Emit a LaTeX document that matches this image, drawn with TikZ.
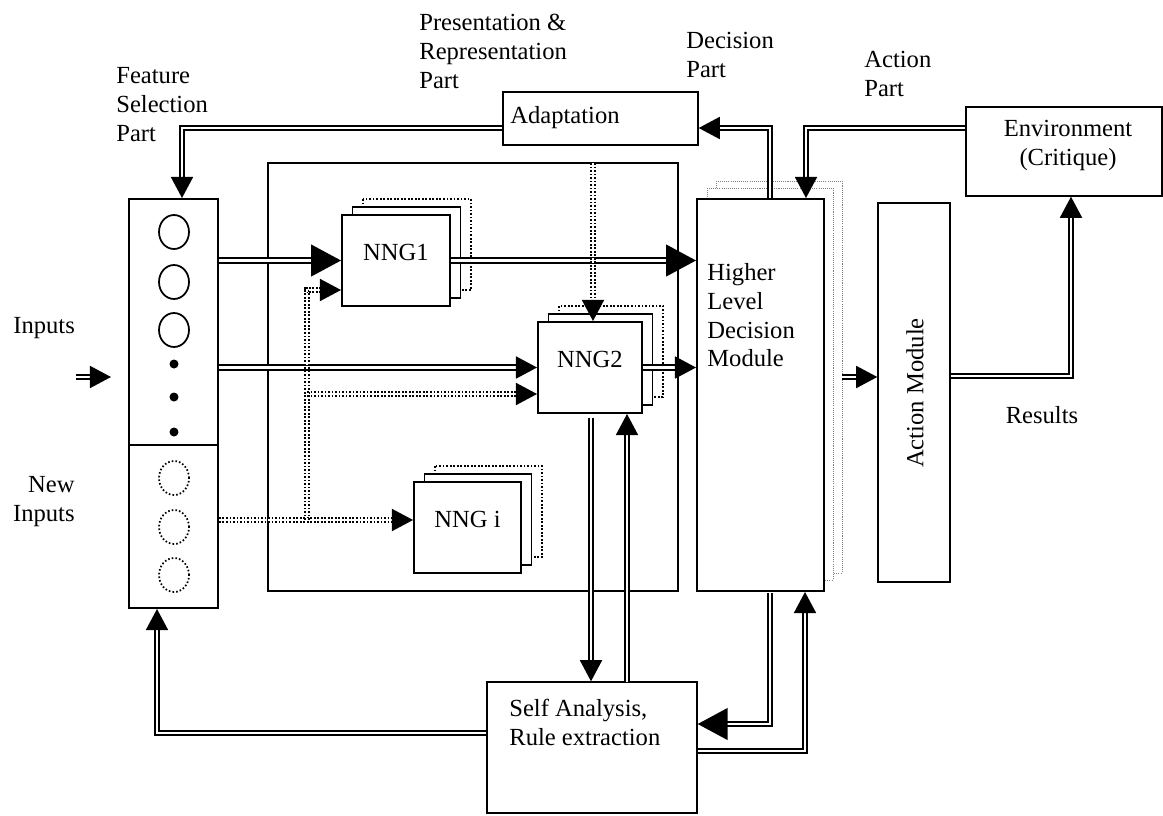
\documentclass[tikz,border=0pt]{standalone}
\usepackage{fontspec}
\setmainfont{Liberation Serif}
\usetikzlibrary{arrows.meta,fit,calc}
\begin{document}
\begin{tikzpicture}[x=0.02cm,y=-0.02cm,
  every node/.style={font=\fontsize{14}{16.4}\selectfont},
  box/.style={draw,line width=1.1pt,inner sep=0pt,fill=white},
  tbox/.style={draw,line width=0.8pt,inner sep=0pt,fill=white},
  dotbox/.style={draw,line width=1.1pt,dash pattern=on 1pt off 1pt,fill=white},
  shadowbox/.style={draw=gray,line width=0.45pt,dash pattern=on 0.6pt off 0.6pt,fill=white},
  lbl/.style={inner sep=0pt,align=left},
  dl/.style={double,double distance=1.5pt,line width=1.1pt},
  dd/.style={double,double distance=1.5pt,line width=1.1pt,dash pattern=on 1pt off 1pt},
  bigtip/.style={-{Triangle[length=17pt,width=18pt]}},
  midtip/.style={-{Triangle[length=12pt,width=12.5pt]}},
]
\useasboundingbox (0,0) rectangle (1163,815);

% inner presentation box
\draw[line width=1.1pt] (268,163) rectangle (678,591);

% feature selection box
\node[box,fit={(129,199) (218,608)}] (fs) {};
\draw[line width=1pt] (129,445) -- (218,445);
\foreach \y in {232,282,330}
  \draw[line width=1pt] (174,\y) ellipse [x radius=0.3cm, y radius=0.34cm];
\foreach \y in {364,397,432}
  \fill (174,\y) circle [radius=0.09cm];
\foreach \y in {478,527,575}
  \draw[line width=1pt,dash pattern=on 0.9pt off 1.2pt] (174,\y) ellipse [x radius=0.3cm, y radius=0.34cm];

% NNG stacks
\draw[dotbox] (363,199) rectangle (471,290);
\draw[box] (352.5,207) rectangle (460.5,298);
\node[box,fit={(342,215) (450,306)}] (nng1) {NNG1};

\draw[dotbox] (559,306) rectangle (663,397);
\draw[box] (548.5,314) rectangle (652.5,405);
\node[box,fit={(538,322) (642,413)}] (nng2) {NNG2};

\draw[dotbox] (435,466) rectangle (542,557);
\draw[box] (424.5,474) rectangle (531.5,565);
\node[box,fit={(414,482) (521,573)}] (nngi) {NNG i};

% higher level decision module
\draw[shadowbox] (716,181) rectangle (842,573);
\draw[shadowbox] (707,188) rectangle (833,580);
\node[box,fit={(697,199) (824,591)}] (hldm) {};
\node[lbl,anchor=north west] at (707,263) {Higher\\Level\\Decision\\Module};

% other boxes
\node[tbox,fit={(503,92) (698,145)}] (adapt) {};
\node[lbl,anchor=north west] at (510,106) {Adaptation};
\node[tbox,fit={(966,107) (1162,196)}] (env) {};
\node[inner sep=0pt,align=center,anchor=north] at (1068,120) {Environment\\(Critique)};
\node[tbox,fit={(878,203) (950,582)}] (action) {};
\node[inner sep=0pt,rotate=90] at (915,393) {Action Module};
\node[tbox,fit={(487,682) (697,813)}] (sa) {};
\node[lbl,anchor=north west] at (509,699) {Self Analysis,\\Rule extraction};

% labels
\node[lbl,anchor=north west] at (116,67) {Feature\\Selection\\Part};
\node[lbl,anchor=north west] at (419,14) {Presentation \&\\Representation\\Part};
\node[lbl,anchor=north west] at (686,32) {Decision\\Part};
\node[lbl,anchor=north west] at (864,51) {Action\\Part};
\node[lbl,anchor=north west] at (13,317) {Inputs};
\node[inner sep=0pt,align=right,anchor=north east] at (75,476) {New\\Inputs};
\node[inner sep=0pt,anchor=north] at (1042,406) {Results};

% coordinates
\coordinate (c1) at (182,128);
\coordinate (c2) at (770,128);
\coordinate (c3) at (806,128);
\coordinate (inA) at (76,377);
\coordinate (inB) at (111,377);
\coordinate (dy) at (307,520);
\coordinate (dz) at (307,290);
\coordinate (dw) at (307,394);
\coordinate (da) at (593,163);
\coordinate (k1) at (591,418);
\coordinate (l1) at (627,682);
\coordinate (m1) at (770,593);
\coordinate (m2) at (770,724);
\coordinate (n1) at (805,751);
\coordinate (o1) at (157,733);
\coordinate (p1) at (842,377);
\coordinate (q1) at (1071,376);

% connectors
\draw[dl,midtip] (inA) -- (inB);
\draw[dl,midtip] (adapt.west |- c1) -- (c1) -- (fs.north -| c1);
\draw[dl,midtip] (hldm.north -| c2) -- (c2) -- (adapt.east |- c2);
\draw[dl,midtip] (env.west |- c3) -- (c3) -- (hldm.north -| c3);
\draw[dl,bigtip] (fs.east |- nng1.west) -- (nng1.west);
\draw[dl,bigtip] (nng1.east) -- (hldm.west |- nng1.east);
\draw[dl,midtip] (fs.east |- nng2.west) -- (nng2.west);
\draw[dl,midtip] (nng2.east) -- (hldm.west |- nng2.east);
\draw[dd,midtip] (fs.east |- dy) -- (nngi.west |- dy);
\draw[dd,midtip] (dy) -- (dz) -- (nng1.west |- dz);
\draw[dd,midtip] (dw) -- (nng2.west |- dw);
\draw[dd,midtip] (da) -- (nng2.north -| da);
\draw[dl,midtip] (k1) -- (sa.north -| k1);
\draw[dl,midtip] (l1) -- (nng2.south -| l1);
\draw[dl,bigtip] (m1) -- (m2) -- (sa.east |- m2);
\draw[dl,midtip] (sa.east |- n1) -- (n1) -- (hldm.south -| n1);
\draw[dl,midtip] (sa.west |- o1) -- (o1) -- (fs.south -| o1);
\draw[dl,midtip] (p1) -- (action.west |- p1);
\draw[dl,midtip] (action.east |- q1) -- (q1) -- (env.south -| q1);
\end{tikzpicture}
\end{document}
